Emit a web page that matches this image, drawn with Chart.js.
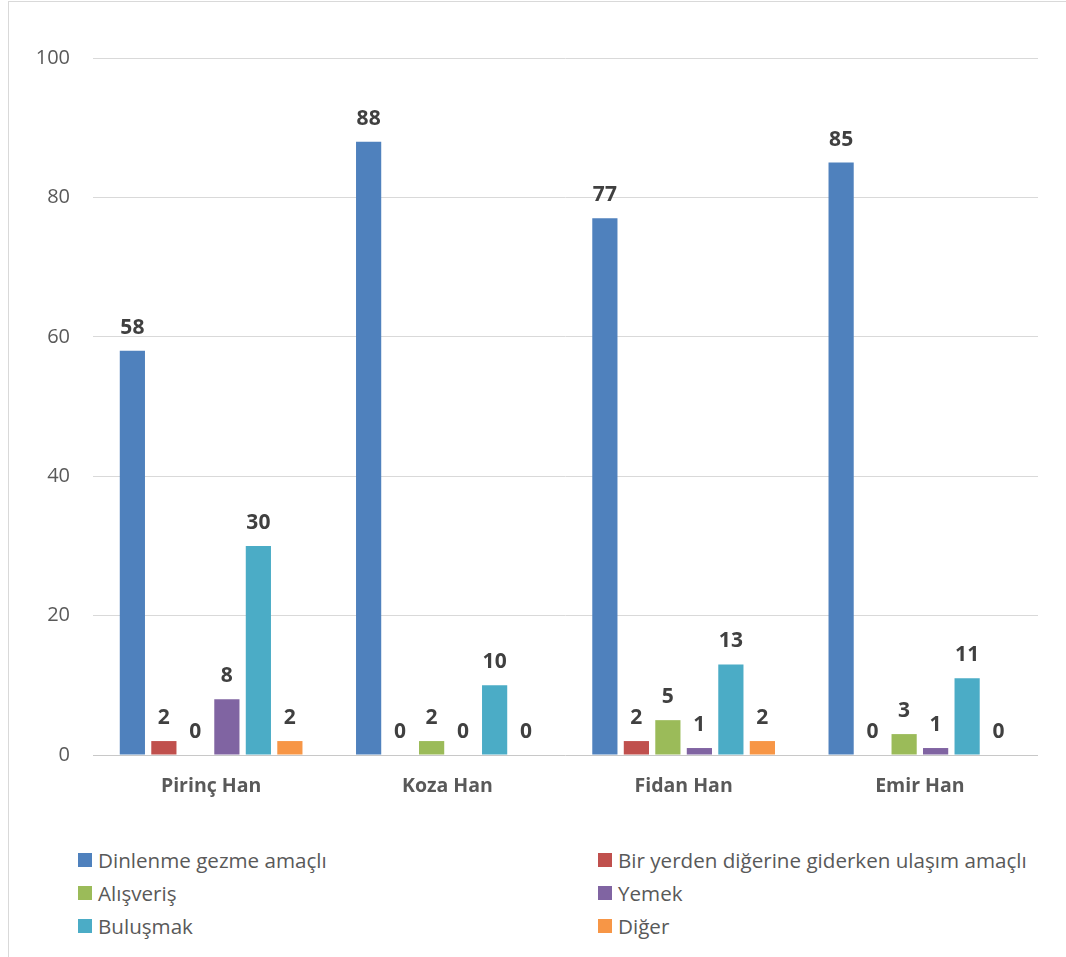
<!DOCTYPE html>
<html>
<head>
<meta charset="utf-8">
<script src="https://cdn.jsdelivr.net/npm/chart.js@4"></script>
<style>
  body { margin: 0; background: #fff; width: 1066px; height: 957px; overflow: hidden; position: relative; font-family: "Open Sans", sans-serif; }
  #frame { position: absolute; left: 8px; top: 1px; width: 1200px; height: 1100px; border: 1px solid #d9d9d9; }
  #grafico { position: absolute; left: 0; top: 0; }
  .leg { position: absolute; height: 33px; display: flex; align-items: center; font-size: 20.6px; color: #595959; white-space: nowrap; }
  .leg span.box { width: 14px; height: 14px; margin-right: 6px; display: inline-block; }
</style>
</head>
<body>
<div id="frame"></div>
<canvas id="grafico" width="1066" height="820"></canvas>
<div id="legenda"></div>
<script>
const hanlar = ['Pirinç Han', 'Koza Han', 'Fidan Han', 'Emir Han'];
const seriAdlari = ['Dinlenme gezme amaçlı', 'Bir yerden diğerine giderken ulaşım amaçlı', 'Alışveriş', 'Yemek', 'Buluşmak', 'Diğer'];
const dinlenme = [58, 88, 77, 85];
const ulasim = [2, 0, 2, 0];
const alisveris = [0, 2, 5, 3];
const yemek = [8, 0, 1, 1];
const bulusmak = [30, 10, 13, 11];
const diger = [2, 0, 2, 0];
const renkler = ['#4F81BD', '#C0504D', '#9BBB59', '#8064A2', '#4BACC6', '#F79646'];
const yTicks = [0, 20, 40, 60, 80, 100];

const seriler = [dinlenme, ulasim, alisveris, yemek, bulusmak, diger];

// data labels drawn by hand, no datalabels plugin offline
const etiketler = {
  id: 'etiketler',
  afterDatasetsDraw(chart) {
    const ctx = chart.ctx;
    ctx.save();
    ctx.font = 'bold 21px "Open Sans"';
    ctx.fillStyle = '#404040';
    ctx.textAlign = 'center';
    ctx.textBaseline = 'middle';
    chart.data.datasets.forEach((ds, i) => {
      chart.getDatasetMeta(i).data.forEach((bar, j) => {
        ctx.fillText(ds.data[j], bar.x, bar.y - 23);
      });
    });
    ctx.restore();
  }
};

new Chart(document.getElementById('grafico'), {
  type: 'bar',
  data: {
    labels: hanlar,
    datasets: seriler.map((s, i) => ({
      label: seriAdlari[i],
      data: s,
      backgroundColor: renkler[i],
      categoryPercentage: 0.8,
      barPercentage: 0.8
    }))
  },
  options: {
    responsive: false,
    animation: false,
    layout: { padding: { left: 0, right: 28, top: 58, bottom: 0 } },
    plugins: { legend: { display: false }, tooltip: { enabled: false } },
    scales: {
      x: {
        grid: { display: false, drawTicks: false },
        border: { display: false },
        ticks: { color: '#595959', font: { family: 'Open Sans', size: 19.5, weight: 'bold' }, padding: 20 },
        afterFit(scale) { scale.height = 65; }
      },
      y: {
        min: 0,
        max: 100,
        afterBuildTicks(scale) { scale.ticks = yTicks.map(v => ({ value: v })); },
        grid: { color: (c) => c.tick.value === 0 ? '#c8c8c8' : '#d9d9d9', lineWidth: 1, drawTicks: false },
        border: { display: false },
        ticks: { color: '#595959', font: { family: 'Open Sans', size: 20 }, padding: 23 },
        afterFit(scale) { scale.width = 93; }
      }
    }
  },
  plugins: [etiketler]
});

// legend in two columns
const legenda = document.getElementById('legenda');
const kolonX = [78, 598];
const satirY = [860, 893, 926];
seriAdlari.forEach((ad, i) => {
  const d = document.createElement('div');
  d.className = 'leg';
  d.style.left = kolonX[i % 2] + 'px';
  d.style.top = (satirY[Math.floor(i / 2)] - 16.5) + 'px';
  d.innerHTML = '<span class="box" style="background:' + renkler[i] + '"></span>' + ad;
  legenda.appendChild(d);
});
</script>
</body>
</html>
